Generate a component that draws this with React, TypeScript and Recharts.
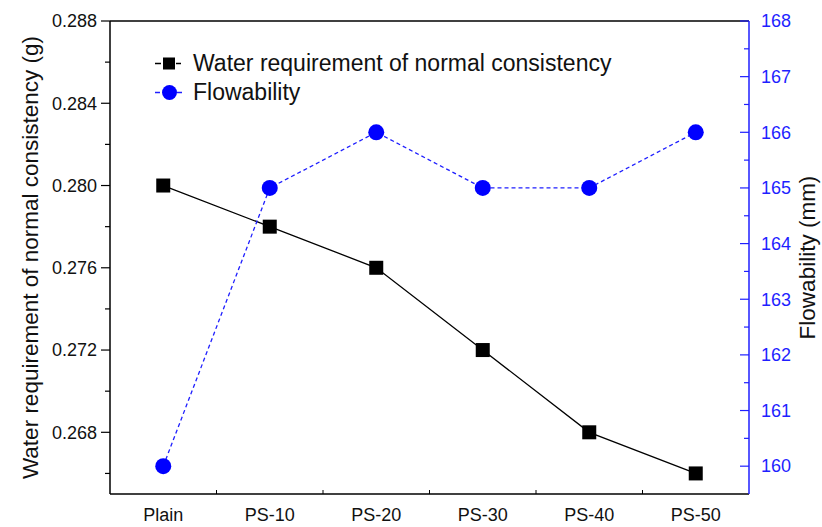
import React from "react";
import { ComposedChart, Line, XAxis, YAxis, ReferenceLine } from "recharts";

const categories = ["Plain", "PS-10", "PS-20", "PS-30", "PS-40", "PS-50"];
const waterReq = [0.28, 0.278, 0.276, 0.272, 0.268, 0.266];
const flowability = [160, 165, 166, 165, 165, 166];

const leftMajor = [0.268, 0.272, 0.276, 0.28, 0.284, 0.288];
const leftMinor = [0.266, 0.27, 0.274, 0.278, 0.282, 0.286];
const rightMajor = [160, 161, 162, 163, 164, 165, 166, 167, 168];
const rightMinor = [160.5, 161.5, 162.5, 163.5, 164.5, 165.5, 166.5, 167.5];

const data = categories.map((name, i) => ({
  name,
  water: waterReq[i],
  flow: flowability[i],
}));

const FONT = "'Liberation Sans', Arial, sans-serif";
const BLUE = "#1f1fff";
const PLOT_W = 639;

const isMajor = (v: number, list: number[]) => list.some((m) => Math.abs(m - v) < 1e-6);

function LeftTick(props: any) {
  const { x, y, payload } = props;
  const major = isMajor(payload.value, leftMajor);
  return (
    <g>
      <line x1={x - (major ? 9 : 5)} x2={x} y1={y} y2={y} stroke="#000" strokeWidth={1.2} />
      {major && (
        <text x={x - 13} y={y} dy="0.35em" textAnchor="end" fontSize={18} fontFamily={FONT} fill="#111">
          {Number(payload.value).toFixed(3)}
        </text>
      )}
    </g>
  );
}

function RightTick(props: any) {
  const { x, y, payload } = props;
  const major = isMajor(payload.value, rightMajor);
  return (
    <g>
      <line x1={x - (major ? 9 : 5)} x2={x} y1={y} y2={y} stroke={BLUE} strokeWidth={1.2} />
      {major && (
        <text x={x + 12} y={y} dy="0.35em" textAnchor="start" fontSize={18} fontFamily={FONT} fill={BLUE}>
          {payload.value}
        </text>
      )}
    </g>
  );
}

function BottomTick(props: any) {
  const { x, y, payload, index } = props;
  const band = PLOT_W / categories.length;
  return (
    <g>
      {index < categories.length - 1 && (
        <line x1={x + band / 2} x2={x + band / 2} y1={y} y2={y - 4} stroke="#000" />
      )}
      <text x={x} y={y + 21} dy="0.35em" textAnchor="middle" fontSize={18} fontFamily={FONT} fill="#111">
        {payload.value}
      </text>
    </g>
  );
}

function SquareDot(props: any) {
  const { cx, cy, index } = props;
  return <rect key={`sq-${index}`} x={cx - 7} y={cy - 7} width={14} height={14} fill="#000" />;
}

function CircleDot(props: any) {
  const { cx, cy, index } = props;
  return <circle key={`ci-${index}`} cx={cx} cy={cy} r={8} fill="#0000ff" />;
}

function LegendBox() {
  const row: React.CSSProperties = {
    display: "flex",
    alignItems: "center",
    height: 29,
    fontFamily: FONT,
    fontSize: 23,
    color: "#111",
    whiteSpace: "nowrap",
  };
  return (
    <div style={{ position: "absolute", left: 155, top: 48.5 }}>
      <div style={row}>
        <svg width={38} height={29}>
          <line x1={0} x2={6} y1={14.5} y2={14.5} stroke="#000" strokeWidth={1.5} />
          <rect x={8} y={8.5} width={12} height={12} fill="#000" />
          <line x1={21} x2={26} y1={14.5} y2={14.5} stroke="#000" strokeWidth={1.5} />
        </svg>
        <span>Water requirement of normal consistency</span>
      </div>
      <div style={row}>
        <svg width={38} height={29}>
          <line x1={0} x2={5} y1={14.5} y2={14.5} stroke={BLUE} strokeWidth={1.5} />
          <circle cx={14.5} cy={14.5} r={7.5} fill="#0000ff" />
          <line x1={22} x2={27} y1={14.5} y2={14.5} stroke={BLUE} strokeWidth={1.5} />
        </svg>
        <span>Flowability</span>
      </div>
    </div>
  );
}

export default function App() {
  const band = PLOT_W / categories.length;
  return (
    <div style={{ position: "absolute", left: 0, top: 0, width: 822, height: 527, background: "#fff" }}>
      <ComposedChart
        width={822}
        height={527}
        data={data}
        margin={{ top: 21, right: 13, bottom: 0, left: 0 }}
      >
        <XAxis
          dataKey="name"
          xAxisId="x"
          height={33}
          padding={{ left: band / 2, right: band / 2 }}
          tickSize={0}
          tickMargin={0}
          tickLine={false}
          axisLine={{ stroke: "#000", strokeWidth: 1.5 }}
          tick={<BottomTick />}
          interval={0}
        />
        <YAxis
          yAxisId="left"
          orientation="left"
          width={110}
          domain={[0.265, 0.288]}
          type="number"
          ticks={[...leftMinor, ...leftMajor].sort((a, b) => a - b)}
          interval={0}
          tickSize={0}
          tickMargin={0}
          tickLine={false}
          axisLine={{ stroke: "#000", strokeWidth: 1.5 }}
          tick={<LeftTick />}
          allowDataOverflow
          label={(p: any) => {
            const vb = p.viewBox || { x: 0, y: 21, height: 473 };
            const cy = vb.y + vb.height / 2;
            return (
              <text
                x={30}
                y={cy}
                transform={`rotate(-90, 30, ${cy})`}
                textAnchor="middle"
                dy="0.35em"
                fontSize={22.5}
                fontFamily={FONT}
                fill="#111"
              >
                Water requirement of normal consistency (g)
              </text>
            );
          }}
        />
        <YAxis
          yAxisId="right"
          orientation="right"
          width={60}
          domain={[159.5, 168]}
          type="number"
          ticks={[...rightMinor, ...rightMajor].sort((a, b) => a - b)}
          interval={0}
          tickSize={0}
          tickMargin={0}
          tickLine={false}
          axisLine={{ stroke: BLUE, strokeWidth: 1.5 }}
          tick={<RightTick />}
          allowDataOverflow
          label={(p: any) => {
            const vb = p.viewBox || { x: 749, y: 21, height: 473 };
            const cy = vb.y + vb.height / 2;
            const cx = 807;
            return (
              <text
                x={cx}
                y={cy}
                transform={`rotate(-90, ${cx}, ${cy})`}
                textAnchor="middle"
                dy="0.35em"
                fontSize={22.5}
                fontFamily={FONT}
                fill="#111"
              >
                Flowability (mm)
              </text>
            );
          }}
        />
        <ReferenceLine yAxisId="left" xAxisId="x" y={0.288} stroke="#000" strokeWidth={1.5} />
        <Line
          xAxisId="x"
          yAxisId="left"
          dataKey="water"
          type="linear"
          stroke="#000"
          strokeWidth={1.3}
          dot={<SquareDot />}
          activeDot={false}
          isAnimationActive={false}
        />
        <Line
          xAxisId="x"
          yAxisId="right"
          dataKey="flow"
          type="linear"
          stroke={BLUE}
          strokeWidth={1.3}
          strokeDasharray="4 3"
          dot={<CircleDot />}
          activeDot={false}
          isAnimationActive={false}
        />
      </ComposedChart>
      <LegendBox />
    </div>
  );
}
